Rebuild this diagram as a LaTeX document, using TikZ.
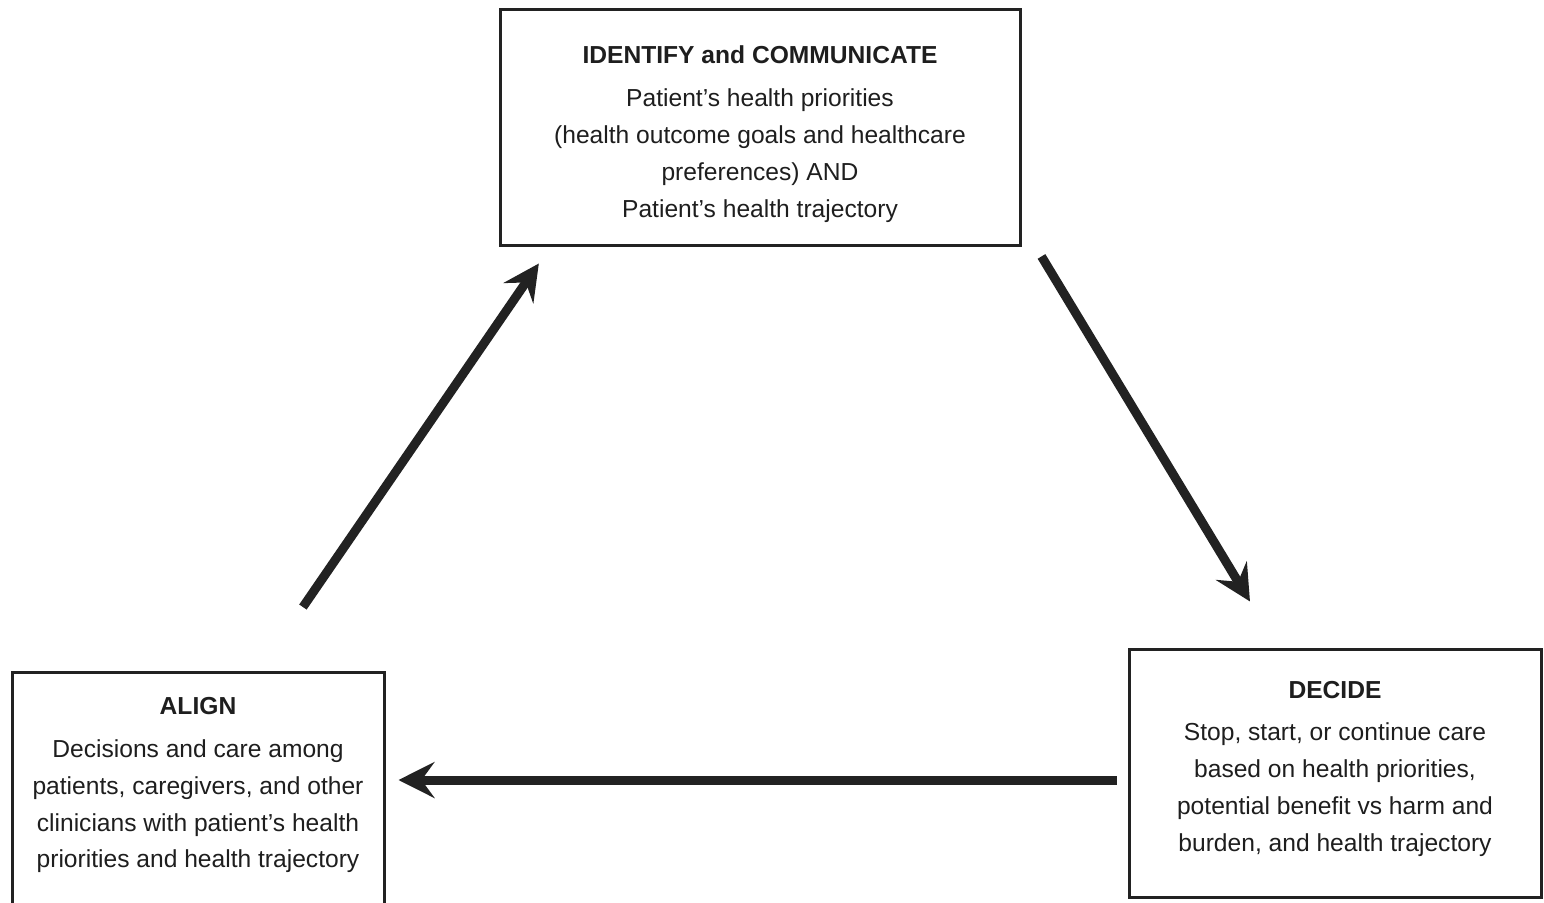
\documentclass[tikz,border=0pt]{standalone}
\usepackage{fontspec}
\setmainfont{Liberation Sans}
\usetikzlibrary{positioning, arrows.meta}
\definecolor{boxline}{RGB}{34,34,34}
\definecolor{boxtext}{RGB}{30,30,30}
\tikzset{
  stagebox/.style={draw=boxline, line width=1.5pt, align=center, text=boxtext,
                   font=\fontsize{12.3}{18.4}\selectfont},
  flow/.style={draw=boxline, line width=4.5pt,
               -{Stealth[length=18pt, width=18pt, inset=6.5pt]}}
}
\begin{document}
\begin{tikzpicture}[x=0.5pt, y=-0.5pt]
    \clip (0,0) rectangle (1544,902);
    % the three stages
    \node[stagebox, minimum width=260pt, minimum height=118pt] (identify) at (760,127) {
        \rule{0pt}{16pt}\textbf{IDENTIFY and COMMUNICATE}\\[3pt]
        Patient's health priorities\\
        (health outcome goals and healthcare\\
        preferences) AND\\
        Patient's health trajectory
    };
    \node[stagebox, minimum width=206pt, minimum height=124pt] (decide) at (1335,773) {
        \textbf{DECIDE}\\[3pt]
        Stop, start, or continue care\\
        based on health priorities,\\
        potential benefit vs harm and\\
        burden, and health trajectory\rule[-7pt]{0pt}{0pt}
    };
    \node[stagebox, anchor=north, minimum width=186pt, inner ysep=12.5pt] (align) at (198,671) {
        \textbf{ALIGN}\\[3pt]
        Decisions and care among\\
        patients, caregivers, and other\\
        clinicians with patient's health\\
        priorities and health trajectory\rule[-45pt]{0pt}{0pt}
    };
    % the cycle
    \draw[flow, shorten <=5.8pt, shorten >=26.9pt]
        ([xshift=7pt]identify.south east) -- ([xshift=-28.6pt]decide.north);
    \draw[flow, shorten <=5.5pt, shorten >=6.5pt]
        ([yshift=-3.5pt]decide.west) -- ([yshift=-3.5pt]decide.west -| align.east);
    \draw[flow, shorten <=38.8pt, shorten >=10.3pt]
        ([xshift=30.5pt]align.north) -- ([xshift=26pt]identify.south west);
\end{tikzpicture}
\end{document}
